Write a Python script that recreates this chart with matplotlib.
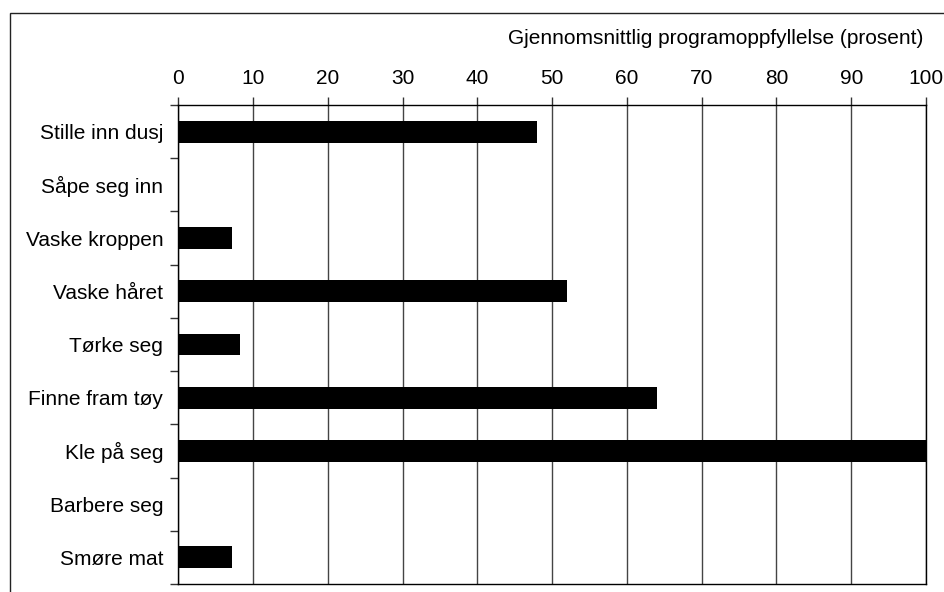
import numpy as np
import matplotlib
matplotlib.use('Agg')
import matplotlib.pyplot as plt
from matplotlib.patches import Rectangle

plt.rcParams['font.family'] = ['Liberation Sans', 'DejaVu Sans']

# data
activities = ['Stille inn dusj', 'Såpe seg inn', 'Vaske kroppen', 'Vaske håret',
              'Tørke seg', 'Finne fram tøy', 'Kle på seg', 'Barbere seg', 'Smøre mat']
values = [48, 0, 7.2, 52, 8.2, 64, 100, 0, 7.2]
xticks = list(range(0, 101, 10))
title = 'Gjennomsnittlig programoppfyllelse (prosent)'

fig = plt.figure(figsize=(9.45, 5.92), dpi=100)
ax = fig.add_axes([178.5 / 945, 1 - 584 / 592, (926 - 178.5) / 945, (584 - 105) / 592])

# outer frame, cut off at the right and bottom
fig.patches.append(Rectangle((10 / 945, -0.05), 1.0, 1 - 13 / 592 + 0.05,
                             transform=fig.transFigure, fill=False,
                             edgecolor='#222222', linewidth=1.0))

pos = np.arange(len(activities))
ax.barh(pos, values, height=0.41, color='black', zorder=3)

ax.set_xlim(0, 100)
ax.set_ylim(len(activities) - 0.5, -0.5)
ax.xaxis.tick_top()
ax.set_xticks(xticks)
ax.set_xticklabels([str(t) for t in xticks], fontsize=15)
ax.tick_params(axis='x', direction='out', length=6, width=1, pad=6.5, color='#333333')
ax.grid(axis='x', color='#444444', linewidth=1, zorder=1)

ax.set_yticks(pos)
ax.set_yticklabels(activities, fontsize=15)
ax.set_yticks(np.arange(-0.5, len(activities), 1), minor=True)
ax.tick_params(axis='y', which='major', length=0, pad=11)
ax.tick_params(axis='y', which='minor', direction='out', length=6, width=1, color='#333333')

for s in ax.spines.values():
    s.set_color('black')
    s.set_linewidth(1)

fig.text(923 / 945, 1 - 38 / 592, title, ha='right', va='center', fontsize=15)

fig.savefig('out.png', dpi=100)
